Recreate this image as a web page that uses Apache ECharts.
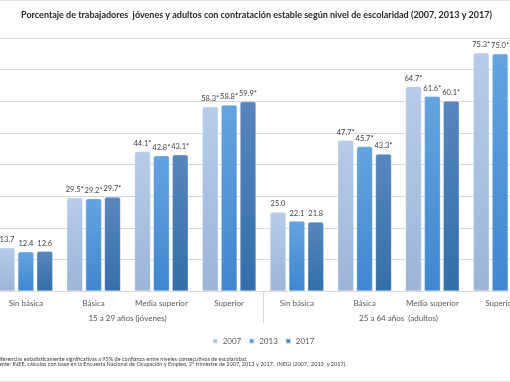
<!DOCTYPE html>
<html>
<head>
<meta charset="utf-8">
<script src="https://cdn.jsdelivr.net/npm/echarts@6/dist/echarts.min.js"></script>
<style>
html,body{margin:0;padding:0;background:#fff}
#wrap{position:relative;width:510px;height:382px;overflow:hidden}
#c{position:absolute;left:-8px;top:0;width:542px;height:382px}
</style>
</head>
<body>
<div id="wrap"><div id="c"></div></div>
<script>
const categories = ['Sin básica','Básica','Media superior','Superior','Sin básica','Básica','Media superior','Superior'];
const groups = ['15 a 29 años (jóvenes)','25 a 64 años  (adultos)'];
const years = ['2007','2013','2017'];
const v2007 = [13.7, 29.5, 44.1, 58.3, 25.0, 47.7, 64.7, 75.3];
const v2013 = [12.4, 29.2, 42.8, 58.8, 22.1, 45.7, 61.6, 75.0];
const v2017 = [12.6, 29.7, 43.1, 59.9, 21.8, 43.3, 60.1, 74.6];
const sig2007 = [false, true, true, true, false, true, true, true];
const sig2013 = [false, true, true, true, false, true, true, true];
const sig2017 = [false, true, true, true, false, true, true, true];
const yTicks = [0, 10, 20, 30, 40, 50, 60, 70, 80];
const titleText = 'Porcentaje de trabajadores  jóvenes y adultos con contratación estable según nivel de escolaridad (2007, 2013 y 2017)';
const note1 = '*Diferencias estadísticamente significativas a 95% de confianza entre niveles consecutivos de escolaridad.';
const note2 = 'Fuente: INEE, cálculos con base en la Encuesta Nacional de Ocupación y Empleo, 2° trimestre de 2007, 2013 y 2017,  INEGI (2007,  2013  y 2017).';

const FONT = 'Lato, Liberation Sans, sans-serif';
const colors = [
  {top:'#b8cce9', bot:'#9cb4d8', legend:'#a9bfdf'},
  {top:'#64a3e0', bot:'#3f87cf', legend:'#4f93d6'},
  {top:'#5886bd', bot:'#346ea9', legend:'#4379b2'}
];
function grad(c){
  return new echarts.graphic.LinearGradient(0,0,0,1,[{offset:0,color:c.top},{offset:1,color:c.bot}]);
}
const vals = [v2007, v2013, v2017];
const sigs = [sig2007, sig2013, sig2017];
const series = years.map((y,i)=>({
  name: y,
  type: 'bar',
  data: vals[i],
  barWidth: 16,
  barGap: '18%',
  itemStyle: {color: grad(colors[i]), borderRadius:[2,2,0,0], borderColor:'rgba(255,255,255,0.6)', borderWidth:0.5},
  label: {
    show: true, position: 'top', distance: 4,
    fontFamily: FONT, fontSize: 7.5, color: '#404040',
    formatter: p => p.value.toFixed(1) + (sigs[i][p.dataIndex] ? '*' : '')
  }
}));

const chart = echarts.init(document.getElementById('c'), null, {renderer:'canvas'});
chart.setOption({
  backgroundColor: '#fff',
  animation: false,
  color: colors.map(c=>c.legend),
  graphic: [
    {type:'line', silent:true, shape:{x1:0, y1:0.5, x2:542, y2:0.5}, style:{stroke:'#e0e0e0', lineWidth:1}},
    {type:'line', silent:true, shape:{x1:0, y1:381.5, x2:542, y2:381.5}, style:{stroke:'#e0e0e0', lineWidth:1}}
  ],
  title: [
    {text: titleText, left: 264.5, textAlign: 'center', top: 11, padding: 0, textStyle:{fontFamily:FONT, fontSize:9, fontWeight:'bold', color:'#262626'}},
    {text: note1, left: 1, top: 356, padding: 0, textStyle:{fontFamily:FONT, fontSize:5.5, fontWeight:'normal', color:'#404040'}},
    {text: note2, left: 1, top: 361.5, padding: 0, textStyle:{fontFamily:FONT, fontSize:5.5, fontWeight:'normal', color:'#404040'}}
  ],
  legend: {
    data: years, left: 'center', top: 337, padding: 0, itemWidth: 5, itemHeight: 5, itemGap: 7,
    icon: 'rect',
    textStyle: {fontFamily: FONT, fontSize: 8, color: '#595959'}
  },
  grid: {left: 0, right: 0, top: 38, bottom: 91, containLabel: false},
  xAxis: [
    {type:'category', data: categories, position:'bottom',
     axisLine:{show:true, lineStyle:{color:'#d9d9d9'}}, axisTick:{show:false},
     axisLabel:{margin:8, fontFamily:FONT, fontSize:8, color:'#595959', interval:0}},
    {type:'category', data: groups, position:'bottom', offset:0,
     axisLine:{show:false},
     axisTick:{show:true, length:32, lineStyle:{color:'#d9d9d9'}},
     axisLabel:{margin:23, fontFamily:FONT, fontSize:8, color:'#595959', interval:0}}
  ],
  yAxis: {type:'value', min: yTicks[0], max: yTicks[yTicks.length-1], interval: 10,
    axisLabel:{show:false}, axisLine:{show:false}, axisTick:{show:false},
    splitLine:{lineStyle:{color:'#d9d9d9', width:1}}},
  series: series
});
</script>
</body>
</html>
